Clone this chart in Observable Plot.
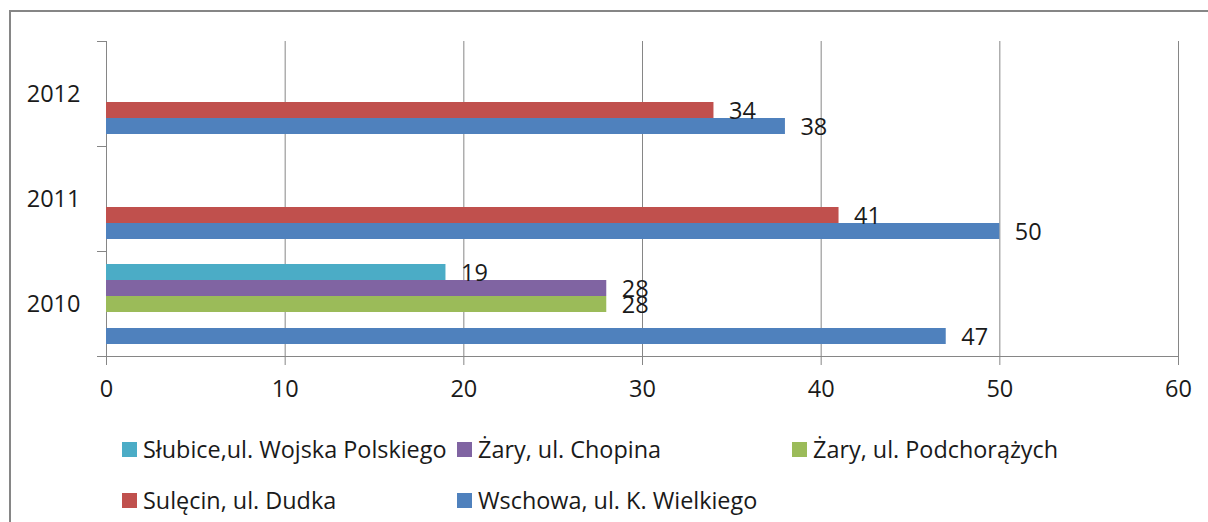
<!DOCTYPE html>
<html>
<head>
<meta charset="utf-8">
<script src="https://cdn.jsdelivr.net/npm/d3@7"></script>
<script src="https://cdn.jsdelivr.net/npm/@observablehq/plot@0.6"></script>
<style>
  html, body { margin: 0; padding: 0; background: #fff; overflow: hidden; width: 1208px; height: 522px; }
  #frame { position: absolute; left: 9px; top: 10px; width: 1400px; height: 800px; border: 2px solid #868686; box-sizing: border-box; }
  #chart { position: absolute; left: 0; top: 0; }
  #legend { position: absolute; left: 122px; top: 441px; display: grid; grid-template-columns: repeat(3, 335px); row-gap: 35px;
            font-family: "Open Sans", sans-serif; font-size: 23.4px; color: #1a1a1a; }
  .item { display: flex; align-items: center; height: 16px; white-space: nowrap; }
  .sw { width: 15px; height: 15px; margin-right: 6px; flex: none; }
</style>
</head>
<body>
<div id="frame"></div>
<div id="chart"></div>
<div id="legend"></div>
<script>
// ---- data ----
const years = ["2010", "2011", "2012"];
const seriesNames = [
  "Słubice,ul. Wojska Polskiego",
  "Żary, ul. Chopina",
  "Żary, ul. Podchorążych",
  "Sulęcin, ul. Dudka",
  "Wschowa, ul. K. Wielkiego"
];
const seriesColors = ["#4BACC6", "#8064A2", "#9BBB59", "#C0504D", "#4F81BD"];
const slubice      = [19, null, null];
const zaryChopina  = [28, null, null];
const zaryPodchor  = [28, null, null];
const sulecin      = [null, 41, 34];
const wschowa      = [47, 50, 38];
const xTicks = [0, 10, 20, 30, 40, 50, 60];

const valuesBySeries = [slubice, zaryChopina, zaryPodchor, sulecin, wschowa];
const data = seriesNames.flatMap((s, i) =>
  years.map((y, j) => ({series: s, year: y, value: valuesBySeries[i][j]}))
).filter(d => d.value != null);

const W = 1208, H = 420, ML = 106, MR = 30, MT = 40, MB = 64;
const gridColor = "#868686";
const font = "Open Sans, sans-serif";
const fs = 23.5;

const chart = Plot.plot({
  width: W, height: H,
  marginLeft: ML, marginRight: MR, marginTop: MT, marginBottom: MB,
  style: {fontFamily: font, fontSize: fs + "px", color: "#1a1a1a", background: "transparent"},
  x: {domain: [0, 60]},
  fy: {domain: years.slice().reverse(), padding: 0},
  y: {domain: seriesNames, paddingInner: 0, paddingOuter: 0.73, axis: null},
  color: {domain: seriesNames, range: seriesColors},
  marks: [
    Plot.gridX(xTicks.slice(1), {stroke: gridColor, strokeOpacity: 1, strokeWidth: 1}),
    Plot.ruleX([0], {stroke: gridColor, strokeWidth: 1}),
    Plot.frame({anchor: "top", insetLeft: -9, insetRight: W - ML - MR, stroke: gridColor}),
    Plot.frame({anchor: "bottom", insetLeft: -9, stroke: gridColor, facetAnchor: "bottom"}),
    Plot.barX(data, {x: "value", y: "series", fy: "year", fill: "series"}),
    Plot.text(data, {x: "value", y: "series", fy: "year", text: d => String(d.value),
      textAnchor: "start", dx: 15, dy: 1, fill: "#1a1a1a", fontSize: fs}),
    Plot.axisX(xTicks, {anchor: "bottom", tickSize: 9, tickPadding: 15, stroke: gridColor, fontSize: fs, fill: "#1a1a1a", label: null}),
    Plot.axisFy({anchor: "left", tickSize: 0, tickPadding: 26, fontSize: fs, fill: "#1a1a1a", label: null})
  ]
});
document.getElementById("chart").appendChild(chart);

// ---- legend ----
const legend = document.getElementById("legend");
seriesNames.forEach((s, i) => {
  const item = document.createElement("div");
  item.className = "item";
  const sw = document.createElement("span");
  sw.className = "sw";
  sw.style.background = seriesColors[i];
  const t = document.createElement("span");
  t.textContent = s;
  item.appendChild(sw); item.appendChild(t);
  legend.appendChild(item);
});
</script>
</body>
</html>
